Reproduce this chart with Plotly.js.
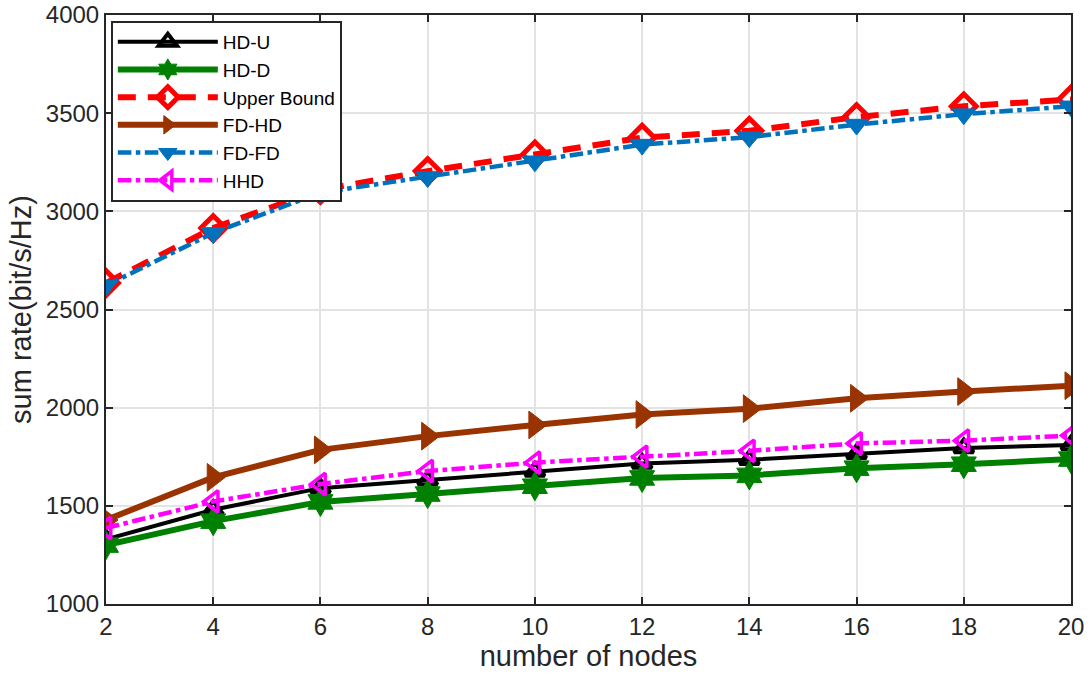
<!DOCTYPE html>
<html>
<head>
<meta charset="utf-8">
<script src="https://cdn.plot.ly/plotly-3.0.1.min.js"></script>
<style>html,body{margin:0;padding:0;background:#fff;}#chart{width:1089px;height:679px;}</style>
</head>
<body>
<div id="chart"></div>
<script>
var nodes = [2, 4, 6, 8, 10, 12, 14, 16, 18, 20];
var hdU   = [1330, 1480, 1590, 1630, 1675, 1715, 1735, 1765, 1795, 1810];
var hdD   = [1300, 1422, 1520, 1560, 1600, 1642, 1655, 1692, 1712, 1738];
var upper = [2635, 2915, 3110, 3205, 3290, 3375, 3410, 3480, 3535, 3570];
var fdHD  = [1428, 1645, 1785, 1855, 1912, 1965, 1995, 2048, 2082, 2112];
var fdFD  = [2622, 2890, 3095, 3175, 3255, 3340, 3378, 3442, 3495, 3535];
var hhd   = [1387, 1522, 1611, 1677, 1720, 1750, 1780, 1818, 1832, 1858];
var seriesNames = ['HD-U', 'HD-D', 'Upper Bound', 'FD-HD', 'FD-FD', 'HHD'];
var xTicks = [2, 4, 6, 8, 10, 12, 14, 16, 18, 20];
var yTicks = [1000, 1500, 2000, 2500, 3000, 3500, 4000];

function tr(y, name, color, width, dash, symbol, size, lw) {
  return {
    x: nodes, y: y, name: name, type: 'scatter', mode: 'lines+markers',
    line: {color: color, width: width, dash: dash},
    marker: {symbol: symbol, size: size, color: color, line: {color: color, width: lw}}
  };
}
var data = [
  tr(hdU, seriesNames[0], '#000000', 4, 'solid', 'triangle-up-open', 17, 4),
  tr(hdD, seriesNames[1], '#008000', 6, 'solid', 'hexagram', 22, 1),
  tr(upper, seriesNames[2], '#ff0000', 6, '18px,12px', 'diamond-open', 19, 5),
  tr(fdHD, seriesNames[3], '#993300', 6, 'solid', 'triangle-right', 24, 1),
  tr(fdFD, seriesNames[4], '#0072bd', 4.5, 'dashdot', 'triangle-down', 21, 1),
  tr(hhd, seriesNames[5], '#ff00ff', 4.5, 'dashdot', 'triangle-left-open', 19, 3.5)
];
var fam = 'Liberation Sans, Arial, sans-serif';
var axisFont = {family: fam, size: 24, color: '#262626'};
var titleFont = {family: fam, size: 29, color: '#262626'};
var layout = {
  width: 1089, height: 679,
  margin: {l: 106, r: 18, t: 15, b: 75},
  paper_bgcolor: '#ffffff', plot_bgcolor: '#ffffff',
  showlegend: true,
  xaxis: {
    range: [2, 20], tickvals: xTicks, ticktext: xTicks.map(String),
    showgrid: true, gridcolor: '#e3e3e3', gridwidth: 2,
    showline: true, linecolor: '#262626', linewidth: 2, mirror: 'ticks',
    ticks: 'inside', ticklen: 7, tickwidth: 2, tickcolor: '#262626',
    tickfont: axisFont, zeroline: false,
    title: {text: 'number of nodes', font: titleFont, standoff: 0}
  },
  yaxis: {
    range: [1000, 4000], tickvals: yTicks, ticktext: yTicks.map(String),
    showgrid: true, gridcolor: '#e3e3e3', gridwidth: 2,
    showline: true, linecolor: '#262626', linewidth: 2, mirror: 'ticks',
    ticks: 'inside', ticklen: 7, tickwidth: 2, tickcolor: '#262626',
    tickfont: axisFont, zeroline: false,
    title: {text: 'sum rate(bit/s/Hz)', font: titleFont, standoff: 6}
  },
  legend: {
    x: 0.005, y: 0.99, xanchor: 'left', yanchor: 'top',
    bgcolor: '#ffffff', bordercolor: '#262626', borderwidth: 2,
    font: {family: fam, size: 19, color: '#000000'},
    itemwidth: 100, tracegroupgap: 0
  }
};
Plotly.newPlot('chart', data, layout, {displayModeBar: false, staticPlot: true});
</script>
</body>
</html>
